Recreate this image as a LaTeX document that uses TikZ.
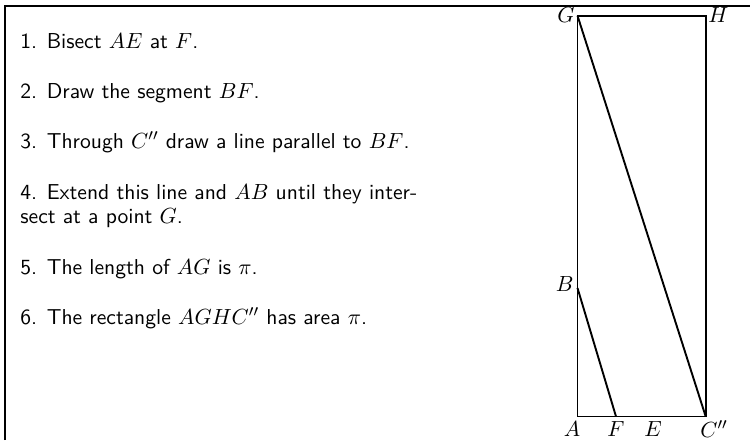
\documentclass[tikz,border=0pt]{standalone}
\begin{document}
\begin{tikzpicture}[x=0.5pt,y=-0.5pt,
  step text/.style={anchor=base west,inner sep=0pt,font=\fontsize{10.8}{13}\selectfont\sffamily},
  ptlabel/.style={inner sep=1pt,font=\fontsize{10.8}{13}\selectfont},
  figline/.style={line width=0.95pt},
  frameline/.style={line width=1.2pt}]
\useasboundingbox (0,0) rectangle (750,440);
% frame
\coordinate (fl) at (5,440);
\coordinate (fc) at (5,6);
\coordinate (fr) at (750,6);
\draw[frameline] (fl) -- (fc) -- (fr);
% steps
\node[step text] (s1) at (20,48) {1. Bisect $AE$ at $F$.};
\node[step text] (s2) at (20,98) {2. Draw the segment $BF$.};
\node[step text] (s3) at (20,148) {3. Through $C''$ draw a line parallel to $BF$.};
\node[step text] (s4a) at (20,199) {4. Extend this line and $AB$ until they inter-};
\node[step text] (s4b) at (20,223) {sect at a point $G$.};
\node[step text] (s5) at (20,274) {5. The length of $AG$ is $\pi$.};
\node[step text] (s6) at (20,324) {6. The rectangle $AGHC''$ has area $\pi$.};
% figure
\coordinate (A) at (577.5,416.5);
\coordinate (C) at (705.7,416.5);
\coordinate (G) at (577.5,15.7);
\coordinate (H) at (705.7,15.7);
\coordinate (F) at (616,416.5);
\coordinate (E) at (653,416.5);
\coordinate (B) at (577.5,288);
\draw[figline] (A) -- (C) -- (H) -- (G) -- cycle;
\draw[figline] (B) -- (F);
\draw[figline] (G) -- (C);
% labels
\node[ptlabel,anchor=east] (lG) at (577,15) {$G$};
\node[ptlabel,anchor=west] (lH) at (706,15) {$H$};
\node[ptlabel,anchor=east] (lB) at (576,284) {$B$};
\node[ptlabel] (lA) at (572,429) {$A$};
\node[ptlabel] (lF) at (616,429) {$F$};
\node[ptlabel] (lE) at (653,429) {$E$};
\node[ptlabel] (lC) at (714,429) {$C''$};
\end{tikzpicture}
\end{document}
